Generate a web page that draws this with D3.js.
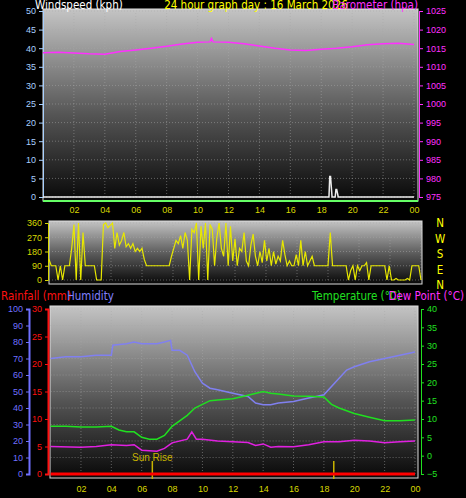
<!DOCTYPE html>
<html><head><meta charset="utf-8">
<script src="https://cdn.jsdelivr.net/npm/d3@7"></script>
<style>body{margin:0;background:#000}svg{display:block;font-family:"Liberation Sans",Arial,sans-serif}</style>
</head><body><div id="root"></div>
<script>
// hourly-ish readings, hour of day
const baroHours = [0,1,2,3,4,5,6,7,8,9,10,10.8,10.9,11,12,13,14,15,16,17,18,19,20,21,22,23,24];
const baroValues = [1013.8,1013.9,1013.7,1013.5,1013.4,1014.1,1014.5,1015.0,1015.5,1016.1,1016.6,1016.7,1017.6,1016.7,1016.6,1016.2,1015.6,1015.0,1014.5,1014.4,1014.7,1015.0,1015.4,1015.9,1016.2,1016.3,1016.0];
const windHours = [0,18.5,18.55,18.6,18.7,18.9,18.95,19.0,19.1,24];
const windValues = [0,0,5.5,5.5,0,0,2,2,0,0];
// wind direction, one reading every 10 minutes
const dirValues = [
  130,90,90,90,0,90,0,90,90,90,200,350,
  0,360,0,300,90,90,90,90,90,0,0,0,
  350,360,330,345,360,200,300,220,250,300,210,230,
  200,230,180,200,180,200,130,90,90,90,90,90,
  90,90,90,90,90,90,150,200,250,230,280,200,
  300,250,0,320,300,360,0,340,200,360,0,350,
  320,90,270,360,200,150,360,90,340,120,260,90,
  200,180,300,120,90,220,290,150,90,180,110,250,
  120,200,90,180,100,150,120,250,160,90,120,90,
  90,160,90,250,90,180,90,120,150,90,90,90,
  90,90,90,90,300,90,90,90,90,90,90,90,
  0,60,90,0,90,60,90,90,110,0,90,90,
  90,90,90,90,90,0,90,0,0,10,0,0,
  0,0,10,0,90,90,90,90,0];
const humHours = [0,1,2,3,4,4.1,5,5.5,6,7,7.5,7.9,8,8.5,9,9.5,10,10.5,11,12,13,13.5,14,14.5,15,16,17,17.5,18,19,19.5,20,21,22,23,24];
const humValues = [70,71,71,72,72,78,79,80,79,79,80,81,75,75,72,62,55,52,51,49,47,43,42,42,43,44,46,47,48,58,63,65,68,70,72,74];
const tempHours = [0,1,2,3,4,4.5,5,5.5,6,6.5,7,7.5,8,9,9.5,10,10.5,11,12,13,14,14.5,15,16,17,18,18.5,19,20,21,22,23,24];
const tempValues = [8,8,7.8,7.8,8,7,6.5,6.5,5,4.5,4.5,5.5,8,11,13,14,15,15.2,15.5,16.5,17.5,17,16.8,16.3,16.2,16,14,13,11.5,10.5,9.5,9.5,9.7];
const dewHours = [0,2,3,4,5,5.5,6,7,7.5,8,9,9.3,9.6,10,11,12,13,13.5,14,14.5,15,16,17,18,19,20,21,22,23,24];
const dewValues = [2.5,2.3,2.5,3,2.8,3,1.5,1.2,2,3.5,4.5,6.5,4.5,4.5,4,3.8,3.6,2.8,3.2,2.3,2.5,2.4,3,3.8,3.8,4.2,4,3.5,3.8,4];
const rainValues = [0,0];
const hourTicks = [2,4,6,8,10,12,14,16,18,20,22,24];
const sunRise = 6.7, sunSet = 18.65;

const svg = d3.select("#root").append("svg").attr("width",466).attr("height",498);
const defs = svg.append("defs");
const grad = defs.append("linearGradient").attr("id","bg").attr("x1",0).attr("x2",0).attr("y1",0).attr("y2",1);
grad.append("stop").attr("offset","0%").attr("stop-color","#c4c4c4");
grad.append("stop").attr("offset","55%").attr("stop-color","#555");
grad.append("stop").attr("offset","100%").attr("stop-color","#080808");

const hh = d => d === 24 ? "00" : d3.format("02d")(d);

function panel(x0,x1,y0,y1){
  svg.append("rect").attr("x",x0).attr("y",y0).attr("width",x1-x0).attr("height",y1-y0).attr("fill","url(#bg)");
  svg.append("rect").attr("x",x0).attr("y",y0).attr("width",x1-x0).attr("height",y1-y0).attr("fill","none").attr("stroke","#ddd").attr("stroke-width",1);
}
function grid(x,y,xt,yt){
  const g = svg.append("g").attr("stroke","#aaa").attr("stroke-opacity",0.5).attr("stroke-dasharray","1,2");
  xt.forEach(t => g.append("line").attr("x1",x(t)).attr("x2",x(t)).attr("y1",y.range()[0]).attr("y2",y.range()[1]));
  yt.forEach(t => g.append("line").attr("x1",x.range()[0]).attr("x2",x.range()[1]).attr("y1",y(t)).attr("y2",y(t)));
}
function axis(gen, tx, color, ty){
  const g = svg.append("g").attr("transform",`translate(${tx},${ty||0})`).call(gen);
  g.selectAll("path,line").attr("stroke",color);
  g.selectAll("text").attr("fill",color).attr("font-size",9);
  return g;
}
function label(x,y,t,c,anchor){
  svg.append("text").attr("x",x).attr("y",y).attr("fill",c).attr("font-size",11.5)
    .attr("font-family","'Liberation Sans Narrow','DejaVu Sans Condensed',sans-serif")
    .attr("text-anchor",anchor||"start").text(t);
}

// ---- top panel: wind speed & barometer
const x1 = d3.scaleLinear().domain([0,24]).range([43,414]);
const yWind = d3.scaleLinear().domain([0,50]).range([197,11]);
const yBaro = d3.scaleLinear().domain([975,1025]).range([197,11]);
panel(43,418,9,201);
grid(x1,yWind,hourTicks,d3.range(0,51,5));
axis(d3.axisLeft(yWind).tickValues(d3.range(0,51,5)).tickSize(4),43,"#a8d0ff");
axis(d3.axisRight(yBaro).tickValues(d3.range(975,1026,5)).tickFormat(d3.format("d")).tickSize(4),419,"#ff30ff");
axis(d3.axisBottom(x1).tickValues(hourTicks).tickFormat(hh).tickSize(0).tickPadding(6),0,"#d8d800",201).select(".domain").remove();
svg.append("line").attr("x1",43).attr("x2",418).attr("y1",yWind(0)+4).attr("y2",yWind(0)+4).attr("stroke","#6f6").attr("stroke-width",2);
svg.append("path").datum(windHours.map((h,i)=>[h,windValues[i]]))
  .attr("fill","none").attr("stroke","#eee").attr("stroke-width",1.5)
  .attr("d",d3.line().x(d=>x1(d[0])).y(d=>yWind(d[1])));
svg.append("path").datum(baroHours.map((h,i)=>[h,baroValues[i]]))
  .attr("fill","none").attr("stroke","#ff30ff").attr("stroke-width",1.5)
  .attr("d",d3.line().x(d=>x1(d[0])).y(d=>yBaro(d[1])));
label(35,9,"Windspeed (kph)","#fff");
label(256,9,"24 hour graph day : 16 March 2026","#ffff00","middle");
label(418,9,"Barometer (hpa)","#ff30ff","end");

// ---- wind direction
const x2 = d3.scaleLinear().domain([0,24]).range([49,421]);
const yDir = d3.scaleLinear().domain([0,360]).range([280,223]);
panel(49,422,221,284);
grid(x2,yDir,hourTicks,[0,90,180,270,360]);
axis(d3.axisLeft(yDir).tickValues([0,90,180,270,360]).tickSize(3),48,"#d8d800");
svg.append("path").datum(dirValues)
  .attr("fill","none").attr("stroke","#e8e800").attr("stroke-width",1.2)
  .attr("d",d3.line().x((d,i)=>x2(i*24/(dirValues.length-1))).y(d=>yDir(d)));
["N","W","S","E","N"].forEach((t,i)=>label(440,227+i*15.5,t,"#ffff00","middle"));

// ---- bottom panel
const x3 = d3.scaleLinear().domain([0,24]).range([50.6,415]);
const yHum = d3.scaleLinear().domain([0,100]).range([474,309]);
const yRain = d3.scaleLinear().domain([0,30]).range([474,309]);
const yTemp = d3.scaleLinear().domain([-5,40]).range([474,309]);
panel(50,418,306,478);
grid(x3,yHum,hourTicks,d3.range(0,101,10));
axis(d3.axisLeft(yHum).tickValues(d3.range(0,101,10)).tickSize(3),29,"#7070ff").select(".domain").attr("stroke-width",2);
axis(d3.axisLeft(yRain).tickValues(d3.range(0,31,5)).tickSize(3),48,"#ff1010").select(".domain").attr("stroke-width",2);
axis(d3.axisRight(yTemp).tickValues(d3.range(-5,41,5)).tickSize(3),421,"#20e020");
axis(d3.axisBottom(x3).tickValues(hourTicks).tickFormat(hh).tickSize(0).tickPadding(6),0,"#d8d800",480).select(".domain").remove();
[sunRise,sunSet].forEach(h=>svg.append("line").attr("x1",x3(h)).attr("x2",x3(h)).attr("y1",461).attr("y2",479).attr("stroke","#c8b400").attr("stroke-width",1.5));
svg.append("text").attr("x",x3(sunRise)).attr("y",461).attr("fill","#c8b400").attr("font-size",10).attr("text-anchor","middle").text("Sun Rise");
const lineH = (hours,vals,y) => d3.line().x((d,i)=>x3(hours[i])).y(d=>y(d))(vals);
svg.append("path").attr("d",lineH([0,24],rainValues,yRain)).attr("stroke","#ff0000").attr("stroke-width",3).attr("fill","none");
svg.append("path").attr("d",lineH(humHours,humValues,yHum)).attr("stroke","#8080f0").attr("stroke-width",1.5).attr("fill","none");
svg.append("path").attr("d",lineH(tempHours,tempValues,yTemp)).attr("stroke","#20e020").attr("stroke-width",1.5).attr("fill","none");
svg.append("path").attr("d",lineH(dewHours,dewValues,yTemp)).attr("stroke","#e020e0").attr("stroke-width",1.5).attr("fill","none");
label(1,300,"Rainfall (mm)","#ff1010");
label(67,300,"Humidity","#8080ff");
label(312,300,"Temperature (°C)","#20e020");
label(464,300,"Dew Point (°C)","#ff30ff","end");
</script></body></html>
